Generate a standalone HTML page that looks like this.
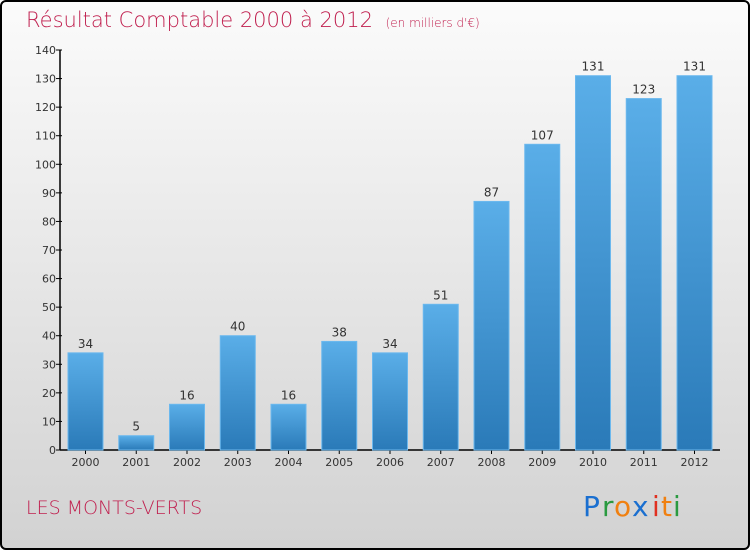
<!DOCTYPE html>
<html><head><meta charset="utf-8"><style>
html,body{margin:0;padding:0}
body{width:750px;height:550px;overflow:hidden;font-family:"DejaVu Sans","Liberation Sans",sans-serif}
#wrap{position:absolute;left:0;top:0;width:746px;height:546px;border:2px solid #000;border-radius:6px;background:linear-gradient(#fbfbfb,#d2d2d2)}
</style></head><body>
<div id="wrap"></div>
<svg width="750" height="550" style="position:absolute;left:0;top:0">
<defs><linearGradient id="bg" x1="0" y1="0" x2="0" y2="1"><stop offset="0" stop-color="#5aaee8"/><stop offset="1" stop-color="#2a7ab8"/></linearGradient></defs>
<text x="26" y="27" font-size="21" fill="#c0204f" font-family="DejaVu Sans,sans-serif" font-weight="200">Résultat Comptable 2000 à 2012 <tspan font-size="12" dx="6">(en milliers d'€)</tspan></text>
<text x="26" y="514" font-size="19" fill="#c0204f" font-weight="200">LES MONTS-VERTS</text>
<g id="logo" font-size="28" font-family="DejaVu Sans,sans-serif">
<text x="583" y="516" fill="#1a6fd0">P</text><text x="602" y="516" fill="#2a9a40">r</text><text x="614" y="516" fill="#f08010">o</text><text x="632" y="516" fill="#1a6fd0">x</text><text x="652" y="516" fill="#e03020">i</text><text x="661" y="516" fill="#f08010">t</text><text x="673" y="516" fill="#2a9a40">i</text>
</g>
<g id="axes"></g><g id="bars"></g>
</svg>
<script>
const categories=["2000","2001","2002","2003","2004","2005","2006","2007","2008","2009","2010","2011","2012"];
const values=[34,5,16,40,16,38,34,51,87,107,131,123,131];
const yTicks=[0,10,20,30,40,50,60,70,80,90,100,110,120,130,140];
const NS="http://www.w3.org/2000/svg";
const y=v=>450-v*400/140, x=i=>85.5+i*50.75;
function mk(t,a,p){const e=document.createElementNS(NS,t);for(const k in a)e.setAttribute(k,a[k]);p.appendChild(e);return e;}
const ax=document.getElementById('axes'), bs=document.getElementById('bars');
let l=mk('line',{x1:60,y1:50,x2:60,y2:450,stroke:'#000','stroke-width':1.5},ax);


l=mk('line',{x1:60,y1:450,x2:720,y2:450,stroke:'#000','stroke-width':1.5},ax);


yTicks.forEach(v=>{mk('line',{x1:56,x2:62,y1:y(v),y2:y(v),stroke:'#000'},ax);
const t=mk('text',{x:56,y:y(v)+4,'text-anchor':'end','font-size':11,fill:'#333'},ax);t.textContent=v;

});
categories.forEach((c,i)=>{const v=values[i];
const r=mk('rect',{x:x(i)-17.5,y:y(v),width:35,height:450-y(v),fill:'url(#bg)',stroke:'#6bb8ee','stroke-width':1},bs);


const t=mk('text',{x:x(i),y:y(v)-5,'text-anchor':'middle','font-size':12,fill:'#333'},bs);t.textContent=v;


mk('line',{x1:x(i),x2:x(i),y1:450,y2:454,stroke:'#000'},ax);
const k=mk('text',{x:x(i),y:466,'text-anchor':'middle','font-size':11,fill:'#333'},ax);k.textContent=c;

});
</script>
</body></html>
